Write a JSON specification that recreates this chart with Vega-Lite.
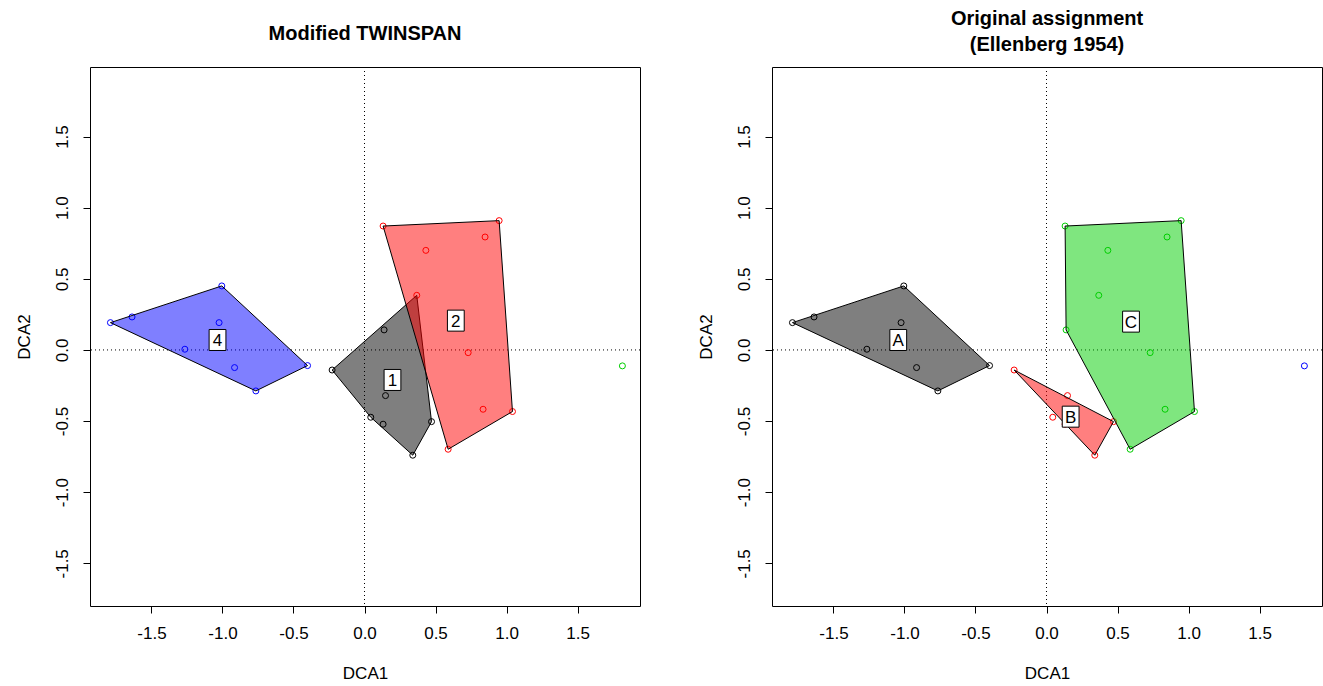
{
  "$schema": "https://vega.github.io/schema/vega-lite/v6.json",
  "background": "white",
  "padding": {"left": 14, "top": 8, "right": 0, "bottom": 0},
  "spacing": 55,
  "config": {
    "font": "Liberation Sans",
    "view": {"stroke": "black", "strokeWidth": 1},
    "axis": {"domain": false, "grid": false, "tickColor": "black", "tickSize": 7, "labelColor": "black", "labelFontSize": 17, "labelFont": "Liberation Sans", "titleFont": "Liberation Sans", "titleFontSize": 17, "titleFontWeight": "normal", "titleColor": "black", "labelPadding": 12, "labelFlush": false, "labelOverlap": false},
    "axisY": {"labelAngle": 270, "titlePadding": 20},
    "axisX": {"titlePadding": 24},
    "title": {"font": "Liberation Sans", "fontSize": 20, "fontWeight": "bold", "color": "black", "anchor": "middle", "lineHeight": 26}
  },
  "datasets": {
    "pts": [
      {"x": -1.789, "y": 0.192, "g1": "4", "g2": "A"},
      {"x": -1.637, "y": 0.232, "g1": "4", "g2": "A"},
      {"x": -1.005, "y": 0.450, "g1": "4", "g2": "A"},
      {"x": -1.024, "y": 0.192, "g1": "4", "g2": "A"},
      {"x": -1.265, "y": 0.005, "g1": "4", "g2": "A"},
      {"x": -0.915, "y": -0.124, "g1": "4", "g2": "A"},
      {"x": -0.765, "y": -0.288, "g1": "4", "g2": "A"},
      {"x": -0.401, "y": -0.110, "g1": "4", "g2": "A"},
      {"x": -0.228, "y": -0.141, "g1": "1", "g2": "B"},
      {"x": 0.138, "y": 0.141, "g1": "1", "g2": "C"},
      {"x": 0.148, "y": -0.321, "g1": "1", "g2": "B"},
      {"x": 0.044, "y": -0.473, "g1": "1", "g2": "B"},
      {"x": 0.131, "y": -0.522, "g1": "1", "g2": "B"},
      {"x": 0.340, "y": -0.740, "g1": "1", "g2": "B"},
      {"x": 0.472, "y": -0.504, "g1": "1", "g2": "B"},
      {"x": 0.131, "y": 0.871, "g1": "2", "g2": "C"},
      {"x": 0.948, "y": 0.909, "g1": "2", "g2": "C"},
      {"x": 0.849, "y": 0.794, "g1": "2", "g2": "C"},
      {"x": 0.432, "y": 0.700, "g1": "2", "g2": "C"},
      {"x": 0.368, "y": 0.384, "g1": "2", "g2": "C"},
      {"x": 0.730, "y": -0.019, "g1": "2", "g2": "C"},
      {"x": 0.835, "y": -0.417, "g1": "2", "g2": "C"},
      {"x": 1.042, "y": -0.433, "g1": "2", "g2": "C"},
      {"x": 0.589, "y": -0.698, "g1": "2", "g2": "C"},
      {"x": 1.816, "y": -0.112, "g1": "3", "g2": "D"}
    ],
    "hulls": [
      {"panel": "L", "grp": "1", "ord": 1, "x": -0.228, "y": -0.141},
      {"panel": "L", "grp": "1", "ord": 2, "x": 0.368, "y": 0.384},
      {"panel": "L", "grp": "1", "ord": 3, "x": 0.472, "y": -0.504},
      {"panel": "L", "grp": "1", "ord": 4, "x": 0.340, "y": -0.740},
      {"panel": "L", "grp": "1", "ord": 5, "x": 0.044, "y": -0.473},
      {"panel": "L", "grp": "1", "ord": 6, "x": -0.228, "y": -0.141},
      {"panel": "L", "grp": "2", "ord": 1, "x": 0.131, "y": 0.871},
      {"panel": "L", "grp": "2", "ord": 2, "x": 0.948, "y": 0.909},
      {"panel": "L", "grp": "2", "ord": 3, "x": 1.042, "y": -0.433},
      {"panel": "L", "grp": "2", "ord": 4, "x": 0.589, "y": -0.698},
      {"panel": "L", "grp": "2", "ord": 5, "x": 0.131, "y": 0.871},
      {"panel": "L", "grp": "4", "ord": 1, "x": -1.789, "y": 0.192},
      {"panel": "L", "grp": "4", "ord": 2, "x": -1.005, "y": 0.450},
      {"panel": "L", "grp": "4", "ord": 3, "x": -0.401, "y": -0.110},
      {"panel": "L", "grp": "4", "ord": 4, "x": -0.765, "y": -0.288},
      {"panel": "L", "grp": "4", "ord": 5, "x": -1.789, "y": 0.192},
      {"panel": "R", "grp": "A", "ord": 1, "x": -1.789, "y": 0.192},
      {"panel": "R", "grp": "A", "ord": 2, "x": -1.005, "y": 0.450},
      {"panel": "R", "grp": "A", "ord": 3, "x": -0.401, "y": -0.110},
      {"panel": "R", "grp": "A", "ord": 4, "x": -0.765, "y": -0.288},
      {"panel": "R", "grp": "A", "ord": 5, "x": -1.789, "y": 0.192},
      {"panel": "R", "grp": "B", "ord": 1, "x": -0.228, "y": -0.141},
      {"panel": "R", "grp": "B", "ord": 2, "x": 0.472, "y": -0.504},
      {"panel": "R", "grp": "B", "ord": 3, "x": 0.340, "y": -0.740},
      {"panel": "R", "grp": "B", "ord": 4, "x": -0.228, "y": -0.141},
      {"panel": "R", "grp": "C", "ord": 1, "x": 0.131, "y": 0.871},
      {"panel": "R", "grp": "C", "ord": 2, "x": 0.948, "y": 0.909},
      {"panel": "R", "grp": "C", "ord": 3, "x": 1.042, "y": -0.433},
      {"panel": "R", "grp": "C", "ord": 4, "x": 0.589, "y": -0.698},
      {"panel": "R", "grp": "C", "ord": 5, "x": 0.138, "y": 0.141},
      {"panel": "R", "grp": "C", "ord": 6, "x": 0.131, "y": 0.871}
    ],
    "labels": [
      {"panel": "L", "lab": "4", "x": -1.035, "y": 0.070},
      {"panel": "L", "lab": "1", "x": 0.197, "y": -0.211},
      {"panel": "L", "lab": "2", "x": 0.643, "y": 0.206},
      {"panel": "R", "lab": "A", "x": -1.044, "y": 0.070},
      {"panel": "R", "lab": "B", "x": 0.170, "y": -0.469},
      {"panel": "R", "lab": "C", "x": 0.595, "y": 0.199}
    ]
  },
  "resolve": {"scale": {"x": "independent", "y": "independent", "color": "independent", "fill": "independent"}},
  "hconcat": [
    {
      "title": {"text": "Modified TWINSPAN", "offset": 23},
      "width": 550,
      "height": 539,
      "layer": [
        {
          "data": {"values": [{}]},
          "mark": {"type": "rule", "strokeDash": [1, 3], "color": "black", "strokeWidth": 1},
          "encoding": {"x": {"datum": 0, "type": "quantitative", "scale": {"domain": [-1.933, 1.94], "nice": false, "zero": false}, "axis": {"title": "DCA1", "values": [-1.5, -1, -0.5, 0, 0.5, 1, 1.5], "labelExpr": "replace(format(datum.value, '.1f'), '−', '-')"}}}
        },
        {
          "data": {"values": [{}]},
          "mark": {"type": "rule", "strokeDash": [1, 3], "color": "black", "strokeWidth": 1},
          "encoding": {"y": {"datum": 0, "type": "quantitative", "scale": {"domain": [-1.8, 1.989], "nice": false, "zero": false}, "axis": {"title": "DCA2", "values": [-1.5, -1, -0.5, 0, 0.5, 1, 1.5], "labelExpr": "replace(format(datum.value, '.1f'), '−', '-')"}}}
        },
        {
          "data": {"name": "pts"},
          "mark": {"type": "point", "filled": false, "size": 36, "strokeWidth": 1, "opacity": 1},
          "encoding": {
            "x": {"field": "x", "type": "quantitative"},
            "y": {"field": "y", "type": "quantitative"},
            "color": {"field": "g1", "type": "nominal", "scale": {"domain": ["1", "2", "3", "4"], "range": ["#000000", "#FF0000", "#00CD00", "#0000FF"]}, "legend": null}
          }
        },
        {
          "data": {"name": "hulls"},
          "transform": [{"filter": "datum.panel === 'L'"}],
          "mark": {"type": "line", "stroke": "black", "strokeWidth": 1, "fillOpacity": 0.5},
          "encoding": {
            "x": {"field": "x", "type": "quantitative"},
            "y": {"field": "y", "type": "quantitative"},
            "order": {"field": "ord", "type": "quantitative"},
            "detail": {"field": "grp", "type": "nominal"},
            "fill": {"field": "grp", "type": "nominal", "scale": {"domain": ["1", "2", "3", "4"], "range": ["#000000", "#FF0000", "#00CD00", "#0000FF"]}, "legend": null}
          }
        },
        {
          "data": {"name": "labels"},
          "transform": [{"filter": "datum.panel === 'L'"}],
          "mark": {"type": "point", "shape": "M -0.8 -1 L 0.8 -1 L 0.8 1 L -0.8 1 Z", "size": 441, "filled": true, "fill": "white", "stroke": "black", "strokeWidth": 1, "opacity": 1},
          "encoding": {
            "x": {"field": "x", "type": "quantitative"},
            "y": {"field": "y", "type": "quantitative"}
          }
        },
        {
          "data": {"name": "labels"},
          "transform": [{"filter": "datum.panel === 'L'"}],
          "mark": {"type": "text", "fontSize": 17, "font": "Liberation Sans", "color": "black", "align": "center", "baseline": "middle", "dy": 1},
          "encoding": {
            "x": {"field": "x", "type": "quantitative"},
            "y": {"field": "y", "type": "quantitative"},
            "text": {"field": "lab", "type": "nominal"}
          }
        }
      ]
    },
    {
      "title": {"text": ["Original assignment", "(Ellenberg 1954)"], "offset": 12},
      "width": 550,
      "height": 539,
      "layer": [
        {
          "data": {"values": [{}]},
          "mark": {"type": "rule", "strokeDash": [1, 3], "color": "black", "strokeWidth": 1},
          "encoding": {"x": {"datum": 0, "type": "quantitative", "scale": {"domain": [-1.933, 1.94], "nice": false, "zero": false}, "axis": {"title": "DCA1", "values": [-1.5, -1, -0.5, 0, 0.5, 1, 1.5], "labelExpr": "replace(format(datum.value, '.1f'), '−', '-')"}}}
        },
        {
          "data": {"values": [{}]},
          "mark": {"type": "rule", "strokeDash": [1, 3], "color": "black", "strokeWidth": 1},
          "encoding": {"y": {"datum": 0, "type": "quantitative", "scale": {"domain": [-1.8, 1.989], "nice": false, "zero": false}, "axis": {"title": "DCA2", "values": [-1.5, -1, -0.5, 0, 0.5, 1, 1.5], "labelExpr": "replace(format(datum.value, '.1f'), '−', '-')"}}}
        },
        {
          "data": {"name": "pts"},
          "mark": {"type": "point", "filled": false, "size": 36, "strokeWidth": 1, "opacity": 1},
          "encoding": {
            "x": {"field": "x", "type": "quantitative"},
            "y": {"field": "y", "type": "quantitative"},
            "color": {"field": "g2", "type": "nominal", "scale": {"domain": ["A", "B", "C", "D"], "range": ["#000000", "#FF0000", "#00CD00", "#0000FF"]}, "legend": null}
          }
        },
        {
          "data": {"name": "hulls"},
          "transform": [{"filter": "datum.panel === 'R'"}],
          "mark": {"type": "line", "stroke": "black", "strokeWidth": 1, "fillOpacity": 0.5},
          "encoding": {
            "x": {"field": "x", "type": "quantitative"},
            "y": {"field": "y", "type": "quantitative"},
            "order": {"field": "ord", "type": "quantitative"},
            "detail": {"field": "grp", "type": "nominal"},
            "fill": {"field": "grp", "type": "nominal", "scale": {"domain": ["A", "B", "C", "D"], "range": ["#000000", "#FF0000", "#00CD00", "#0000FF"]}, "legend": null}
          }
        },
        {
          "data": {"name": "labels"},
          "transform": [{"filter": "datum.panel === 'R'"}],
          "mark": {"type": "point", "shape": "M -0.8 -1 L 0.8 -1 L 0.8 1 L -0.8 1 Z", "size": 441, "filled": true, "fill": "white", "stroke": "black", "strokeWidth": 1, "opacity": 1},
          "encoding": {
            "x": {"field": "x", "type": "quantitative"},
            "y": {"field": "y", "type": "quantitative"}
          }
        },
        {
          "data": {"name": "labels"},
          "transform": [{"filter": "datum.panel === 'R'"}],
          "mark": {"type": "text", "fontSize": 17, "font": "Liberation Sans", "color": "black", "align": "center", "baseline": "middle", "dy": 1},
          "encoding": {
            "x": {"field": "x", "type": "quantitative"},
            "y": {"field": "y", "type": "quantitative"},
            "text": {"field": "lab", "type": "nominal"}
          }
        }
      ]
    }
  ]
}
